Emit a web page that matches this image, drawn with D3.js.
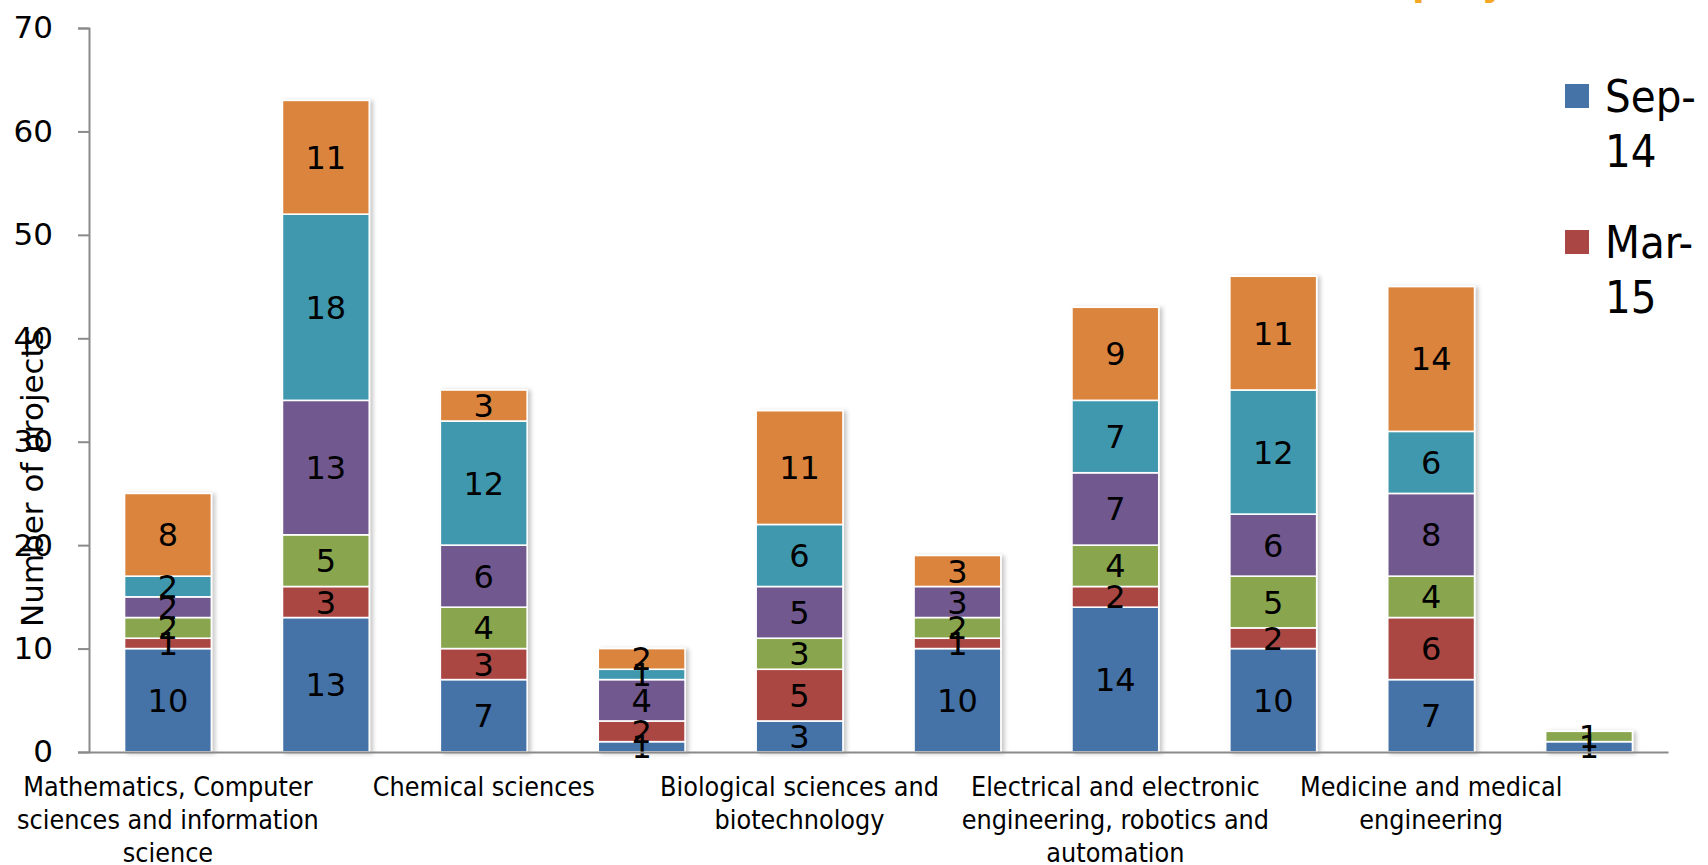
<!DOCTYPE html>
<html>
<head>
<meta charset="utf-8">
<script src="https://cdn.jsdelivr.net/npm/d3@7"></script>
<style>
  body { margin: 0; background: #fff; }
  svg { display: block; }
</style>
</head>
<body>
<svg id="chart" width="1708" height="865"></svg>
<script>
// categories on the x axis (only every second one gets a label in the original)
var categories = [
  "Mathematics, Computer sciences and information science",
  "Physical sciences",
  "Chemical sciences",
  "Earth and environmental sciences",
  "Biological sciences and biotechnology",
  "Materials science",
  "Electrical and electronic engineering, robotics and automation",
  "Mechanical engineering",
  "Medicine and medical engineering",
  "Social sciences"
];

var seriesNames = ["Sep-14", "Mar-15", "Sep-15", "Mar-16", "Sep-16", "Mar-17"];

var sep14 = [10, 13, 7, 1, 3, 10, 14, 10, 7, 1];
var mar15 = [1, 3, 3, 2, 5, 1, 2, 2, 6, 0];
var sep15 = [2, 5, 4, 0, 3, 2, 4, 5, 4, 1];
var mar16 = [2, 13, 6, 4, 5, 3, 7, 6, 8, 0];
var sep16 = [2, 18, 12, 1, 6, 0, 7, 12, 6, 0];
var mar17 = [8, 11, 3, 2, 11, 3, 9, 11, 14, 0];

var yTicks = [0, 10, 20, 30, 40, 50, 60, 70];

var colors = ["#4572A7", "#AA4643", "#89A54E", "#71588F", "#4198AF", "#DB843D"];

var allValues = [sep14, mar15, sep15, mar16, sep16, mar17];

// table for d3.stack
var table = categories.map(function(c, i){
  var row = {cat: c};
  seriesNames.forEach(function(s, j){ row[s] = allValues[j][i]; });
  return row;
});

var svg = d3.select("#chart");
var condensed = "'DejaVu Sans Condensed', 'Liberation Sans Narrow', sans-serif";

var defs = svg.append("defs");
var f = defs.append("filter").attr("id", "shadow")
  .attr("x", "-10%").attr("y", "-10%").attr("width", "130%").attr("height", "130%");
f.append("feDropShadow").attr("dx", 3).attr("dy", 1).attr("stdDeviation", 2)
  .attr("flood-color", "#000").attr("flood-opacity", 0.22);

var x = d3.scaleBand().domain(categories).range([89, 1668])
  .paddingInner(0.45).paddingOuter(0.225);
var y = d3.scaleLinear().domain([0, 70]).range([752, 28]);

// cut-off title at the very top
svg.append("text")
  .attr("x", 1412).attr("y", -7)
  .attr("font-family", "'Liberation Sans', sans-serif")
  .attr("font-weight", "bold")
  .attr("font-size", 46)
  .attr("fill", "#F5A623")
  .text("projects");

var stack = d3.stack().keys(seriesNames)(table);

var barsG = svg.append("g").attr("filter", "url(#shadow)");
var layer = barsG.selectAll("g").data(stack).enter().append("g")
  .attr("fill", function(d, i){ return colors[i]; });

layer.selectAll("rect").data(function(d){ return d; }).enter().append("rect")
  .filter(function(d){ return d[1] - d[0] > 0; })
  .attr("x", function(d){ return x(d.data.cat); })
  .attr("width", x.bandwidth())
  .attr("y", function(d){ return y(d[1]); })
  .attr("height", function(d){ return y(d[0]) - y(d[1]); })
  .attr("stroke", "#fff")
  .attr("stroke-width", 1.6);

// value labels
var labG = svg.append("g")
  .attr("font-family", "'DejaVu Sans', sans-serif")
  .attr("font-size", 32)
  .attr("text-anchor", "middle")
  .attr("fill", "#000");

stack.forEach(function(s){
  labG.selectAll(null).data(s.filter(function(d){ return d[1] - d[0] > 0; })).enter().append("text")
    .attr("x", function(d){ return x(d.data.cat) + x.bandwidth() / 2; })
    .attr("y", function(d){ return y((d[0] + d[1]) / 2); })
    .attr("dy", "0.36em")
    .text(function(d){ return d[1] - d[0]; });
});

// y axis
var yAxis = svg.append("g").attr("transform", "translate(89,0)")
  .call(d3.axisLeft(y).tickValues(yTicks).tickSize(11).tickPadding(25));
yAxis.selectAll("path, line").attr("stroke", "#8a8a8a").attr("stroke-width", 2);
yAxis.selectAll("text")
  .attr("font-family", "'DejaVu Sans', sans-serif")
  .attr("font-size", 31).attr("fill", "#000");

// x axis
var xAxis = svg.append("g").attr("transform", "translate(0,752)")
  .call(d3.axisBottom(x).tickSize(0).tickSizeOuter(0)
    .tickFormat(function(d, i){ return i % 2 === 0 ? d : ""; }));
xAxis.select(".domain").attr("stroke", "#8a8a8a").attr("stroke-width", 2);
xAxis.selectAll("text")
  .attr("font-family", condensed)
  .attr("font-size", 26.7)
  .attr("fill", "#000")
  .attr("y", 44).attr("dy", 0)
  .call(wrap, 318);

function wrap(sel, width){
  sel.each(function(){
    var t = d3.select(this);
    var words = t.text().split(/\s+/).filter(function(w){ return w; });
    t.text(null);
    var line = [];
    var tspan = t.append("tspan").attr("x", 0).attr("dy", 0);
    words.forEach(function(w){
      line.push(w);
      tspan.text(line.join(" "));
      if (tspan.node().getComputedTextLength() > width && line.length > 1){
        line.pop();
        tspan.text(line.join(" "));
        line = [w];
        tspan = t.append("tspan").attr("x", 0).attr("dy", 33).text(w);
      }
    });
  });
}

// y axis title
svg.append("text")
  .attr("transform", "translate(43,478) rotate(-90)")
  .attr("text-anchor", "middle")
  .attr("font-family", "'DejaVu Sans', sans-serif")
  .attr("font-size", 31)
  .attr("fill", "#000")
  .text("Number of projects");

// legend (only the first two entries fit in the visible frame)
var leg = svg.append("g").selectAll("g").data(seriesNames.slice(0, 2)).enter().append("g")
  .attr("transform", function(d, i){ return "translate(1565," + (84 + i * 146) + ")"; });
leg.append("rect").attr("width", 24).attr("height", 24)
  .attr("fill", function(d, i){ return colors[i]; });
leg.append("text")
  .attr("font-family", condensed)
  .attr("font-size", 45)
  .attr("fill", "#000")
  .selectAll("tspan").data(function(d){ return d.match(/[^-]+-?/g); }).enter().append("tspan")
  .attr("x", 40)
  .attr("y", function(d, i){ return 28 + i * 55; })
  .text(function(d){ return d; });
</script>
</body>
</html>
